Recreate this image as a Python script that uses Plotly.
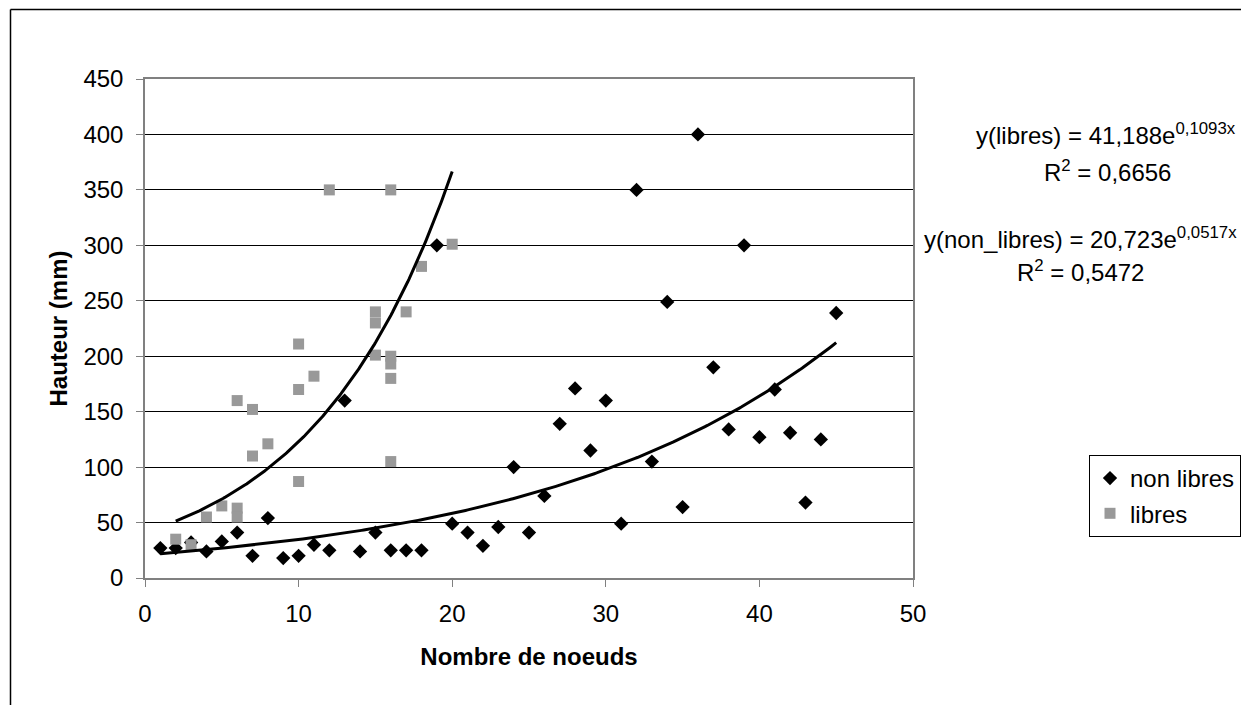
import numpy as np
import plotly.graph_objects as go

# Data
non_libres_x = [1, 2, 3, 4, 5, 6, 7, 8, 9, 10, 11, 12, 13, 14, 15, 16, 17, 18, 19, 20,
                21, 22, 23, 24, 25, 26, 27, 28, 29, 30, 31, 32, 33, 34, 35, 36, 37, 38,
                39, 40, 41, 42, 43, 44, 45]
non_libres_y = [27, 27, 32, 24, 33, 41, 20, 54, 18, 20, 30, 25, 160, 24, 41, 25, 25, 25, 300, 49,
                41, 29, 46, 100, 41, 74, 139, 171, 115, 160, 49, 350, 105, 249, 64, 400, 190, 134,
                300, 127, 170, 131, 68, 125, 239]

libres_x = [2, 3, 4, 5, 6, 6, 6, 7, 7, 8, 10, 10, 10, 11, 12, 15, 15, 15, 16, 16, 16, 16, 16, 17, 18, 20]
libres_y = [35, 30, 55, 65, 160, 63, 55, 152, 110, 121, 211, 170, 87, 182, 350, 240, 230, 201,
            350, 200, 193, 180, 105, 240, 281, 301]

# Exponential trend lines (equations shown on the chart)
libres_fit = (41.188, 0.1093)
non_libres_fit = (20.723, 0.0517)

x_ticks = [0, 10, 20, 30, 40, 50]
y_ticks = [0, 50, 100, 150, 200, 250, 300, 350, 400, 450]

FONT = "Liberation Sans, Arial, sans-serif"
FS = 24

xl = np.linspace(min(libres_x), max(libres_x), 200)
yl = libres_fit[0] * np.exp(libres_fit[1] * xl)
xn = np.linspace(min(non_libres_x), max(non_libres_x), 300)
yn = non_libres_fit[0] * np.exp(non_libres_fit[1] * xn)

fig = go.Figure()
fig.add_trace(go.Scatter(x=non_libres_x, y=non_libres_y, mode="markers", name="non libres",
                         legendgroup="a",
                         marker=dict(symbol="diamond", size=11, color="black", line=dict(width=0))))
fig.add_trace(go.Scatter(x=libres_x, y=libres_y, mode="markers", name="libres",
                         legendgroup="b",
                         marker=dict(symbol="square", size=11, color="#999999", line=dict(width=0))))
fig.add_trace(go.Scatter(x=xl, y=yl, mode="lines", showlegend=False,
                         line=dict(color="black", width=3), hoverinfo="skip"))
fig.add_trace(go.Scatter(x=xn, y=yn, mode="lines", showlegend=False,
                         line=dict(color="black", width=3), hoverinfo="skip"))

fig.update_layout(
    width=1241, height=705,
    margin=dict(l=145, r=328, t=79, b=127, autoexpand=False),
    paper_bgcolor="white", plot_bgcolor="white",
    font=dict(family=FONT, size=FS, color="black"),
    xaxis=dict(range=[0, 50], tickvals=x_ticks, showgrid=False, zeroline=False,
               showline=True, linecolor="#808080", linewidth=1.5, mirror=True,
               ticks="outside", ticklen=7, tickcolor="#808080", automargin=False,
               tickfont=dict(size=FS), ticklabelstandoff=6,
               title=dict(text="<b>Nombre de noeuds</b>", font=dict(size=FS), standoff=23)),
    yaxis=dict(range=[0, 450], tickvals=y_ticks, showgrid=True, gridcolor="black", gridwidth=1,
               zeroline=False, showline=True, linecolor="#808080", linewidth=1.5, mirror=True,
               ticks="outside", ticklen=7, tickcolor="#808080", automargin=False,
               tickfont=dict(size=FS), ticklabelstandoff=8,
               title=dict(text="<b>Hauteur (mm)</b>", font=dict(size=FS), standoff=9)),
    legend=dict(x=(1089 - 145) / 768.0, y=(578 - 455) / 499.0, xanchor="left", yanchor="top",
                bordercolor="black", borderwidth=1, bgcolor="white",
                font=dict(size=FS), itemsizing="trace", tracegroupgap=1),
    showlegend=True,
)

def px_to_paper_x(px):
    return (px - 145) / 768.0
def py_to_paper_y(py):
    return (578 - py) / 499.0

eqs = [
    ("y(libres) = 41,188e<sup>0,1093x</sup>", 1106, 134),
    ("R<sup>2</sup> = 0,6656", 1107, 171),
    ("y(non_libres) = 20,723e<sup>0,0517x</sup>", 1080, 238),
    ("R<sup>2</sup> = 0,5472", 1080, 271),
]
for txt, px, py in eqs:
    fig.add_annotation(text=txt, x=px_to_paper_x(px), y=py_to_paper_y(py),
                       xref="paper", yref="paper", xanchor="center", yanchor="middle",
                       showarrow=False, font=dict(size=FS, family=FONT, color="black"))

# outer chart-area border (top and left edges visible)
fig.add_shape(type="line", xref="paper", yref="paper",
              x0=px_to_paper_x(10.5), x1=px_to_paper_x(1260), y0=py_to_paper_y(9.5), y1=py_to_paper_y(9.5),
              line=dict(color="black", width=1.5))
fig.add_shape(type="line", xref="paper", yref="paper",
              x0=px_to_paper_x(10.5), x1=px_to_paper_x(10.5), y0=py_to_paper_y(9.5), y1=py_to_paper_y(720),
              line=dict(color="black", width=1.5))

fig.write_html("out.html")
